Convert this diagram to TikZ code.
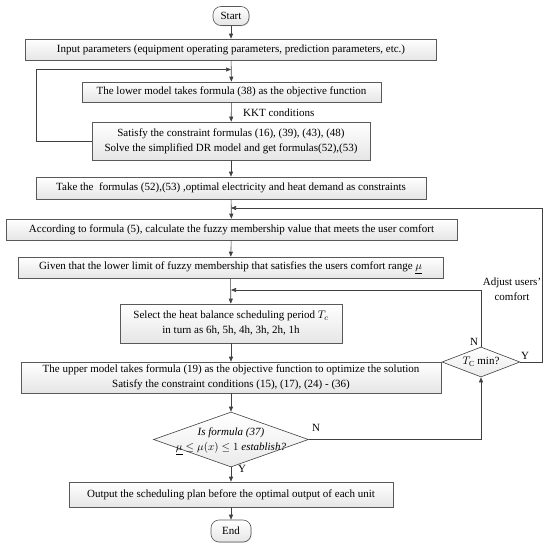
\documentclass[tikz,border=0pt]{standalone}
\usepackage{fontspec}
\setmainfont{Liberation Serif}
\usetikzlibrary{shapes.geometric,arrows.meta,shadows}
\begin{document}
\begin{tikzpicture}[x=1pt,y=-1pt,
  font=\fontsize{11}{15}\selectfont,
  box/.style={draw=black!65, line width=0.6pt, top color=white, bottom color=black!10,
    inner sep=0pt, align=center, drop shadow={shadow xshift=0.7pt, shadow yshift=-0.7pt, fill=black!35}},
  term/.style={box, rounded corners=8pt},
  dia/.style={draw=black!75, line width=0.6pt, shape=diamond, top color=white, bottom color=black!8,
    inner sep=0pt},
  arr/.style={draw=black!75, line width=0.6pt, -{Triangle[length=5pt,width=4pt]}},
  lbl/.style={inner sep=0pt}
]
\useasboundingbox (0,0) rectangle (550,544);
\node[term, minimum width=36, minimum height=19] (start) at (231,16) {Start};
\node[box, minimum width=411, minimum height=21] (input) at (231,49.5) {Input parameters (equipment operating parameters, prediction parameters, etc.)};
\node[box, minimum width=299, minimum height=20] (lower) at (231.5,92) {The lower model takes formula (38) as the objective function};
\node[box, minimum width=278, minimum height=38] (sat) at (231,141) {Satisfy the constraint formulas (16), (39), (43), (48)\\Solve the simplified DR model and get formulas(52),(53)};
\node[box, minimum width=390, minimum height=22] (take) at (231,188) {Take the~ formulas (52),(53) ,optimal electricity and heat demand as constraints};
\node[box, minimum width=451, minimum height=21] (acc) at (231.5,229.5) {According to formula (5), calculate the fuzzy membership value that meets the user comfort};
\node[box, minimum width=425, minimum height=21] (given) at (230.5,267.5) {Given that the lower limit of fuzzy membership that satisfies the users comfort range $\underline{\mu}$};
\node[box, minimum width=222, minimum height=39] (sel) at (231,323.5) {Select the heat balance scheduling period $T_{c}$\\in turn as 6h, 5h, 4h, 3h, 2h, 1h};
\node[box, minimum width=420, minimum height=31] (up) at (231,377.5) {The upper model takes formula (19) as the objective function to optimize the solution\\Satisfy the constraint conditions (15), (17), (24) - (36)};
\node[dia, minimum width=155, minimum height=55] (isf) at (231,439.5) {};
\node[lbl, align=center] (isftext) at (231,441) {\itshape Is formula (37)\\$\underline{\mu}\le\mu(x)\le 1$ \itshape establish?};
\node[box, minimum width=324, minimum height=25] (out) at (231,494.5) {Output the scheduling plan before the optimal output of each unit};
\node[term, minimum width=40, minimum height=22] (end) at (231,531) {End};
\node[dia, minimum width=78, minimum height=30] (tc) at (481,362) {};
\node[lbl] (tctext) at (481,362) {$T_{\mathrm{C}}$ min?};

\node[lbl, anchor=west] (kkt) at (243,113) {KKT conditions};
\node[lbl, align=center] (adj) at (512,289) {Adjust users’\\comfort};
\node[lbl] (n1) at (474,342) {N};
\node[lbl] (y1) at (525,356) {Y};
\node[lbl] (n2) at (316,428) {N};
\node[lbl] (y2) at (242,469) {Y};

\coordinate (loopin) at (231,69.5);
\coordinate (fb1) at (231,208);
\coordinate (fb2) at (231,290);
\coordinate (rt) at (542,362);

\draw[arr] (start) -- (input);
\draw[arr] (input) -- (lower);
\draw[arr] (sat.west) -| (36,69.5) -- (loopin);
\draw[arr] (lower) -- (sat);
\draw[arr] (sat) -- (take);
\draw[arr] (take) -- (acc);
\draw[arr] (tc.east) -- (rt) |- (fb1);
\draw[arr] (acc) -- (given);
\draw[arr] (given) -- (sel);
\draw[arr] (tc.north) |- (fb2);
\draw[arr] (sel) -- (up);
\draw[arr] (up) -- (isf);
\draw[arr] (isf.east) -| (tc.south);
\draw[arr] (isf) -- (out);
\draw[arr] (out) -- (end);
\end{tikzpicture}
\end{document}
